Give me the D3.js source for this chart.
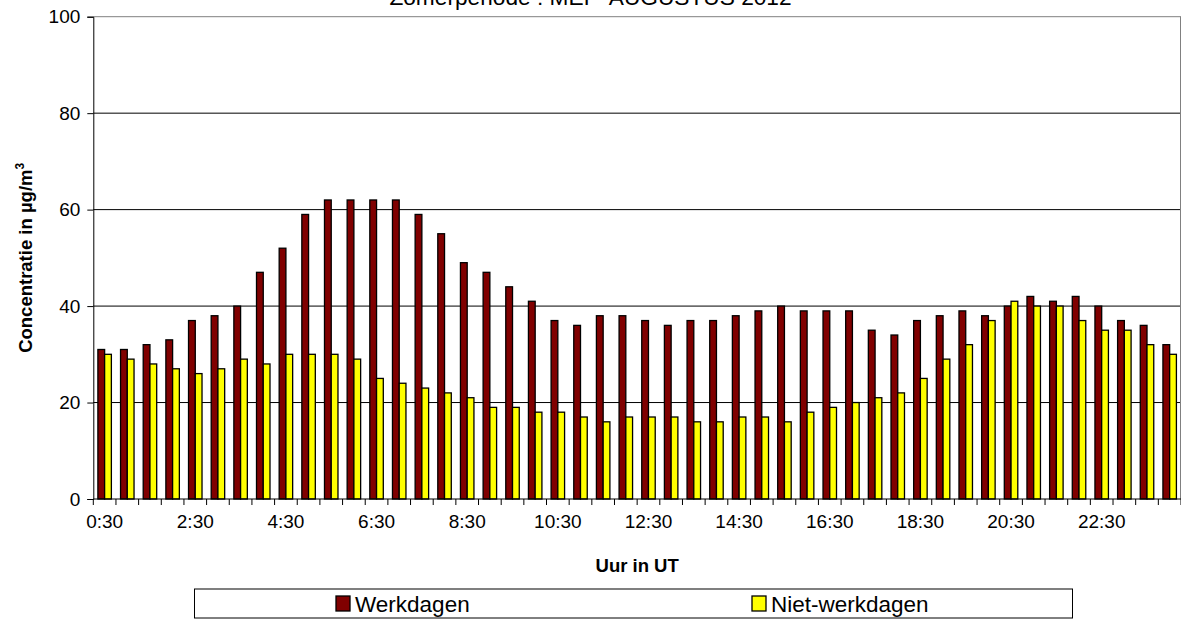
<!DOCTYPE html>
<html>
<head>
<meta charset="utf-8">
<script src="https://cdn.jsdelivr.net/npm/d3@7"></script>
<style>
  html, body { margin: 0; padding: 0; background: #fff; }
  svg { display: block; font-family: "Liberation Sans", Arial, sans-serif; }
</style>
</head>
<body>
<svg id="chart" width="1181" height="619"></svg>
<script>
// Half-hourly categories (UT)
const categories = [
  "0:30","1:00","1:30","2:00","2:30","3:00","3:30","4:00","4:30","5:00","5:30","6:00",
  "6:30","7:00","7:30","8:00","8:30","9:00","9:30","10:00","10:30","11:00","11:30","12:00",
  "12:30","13:00","13:30","14:00","14:30","15:00","15:30","16:00","16:30","17:00","17:30","18:00",
  "18:30","19:00","19:30","20:00","20:30","21:00","21:30","22:00","22:30","23:00","23:30","24:00"
];

// Mean concentration (µg/m³) on working days
const werkdagen = [
  31,31,32,33,37,38,40,47,52,59,62,62,
  62,62,59,55,49,47,44,41,37,36,38,38,
  37,36,37,37,38,39,40,39,39,39,35,34,
  37,38,39,38,40,42,41,42,40,37,36,32
];

// Mean concentration (µg/m³) on non-working days
const nietWerkdagen = [
  30,29,28,27,26,27,29,28,30,30,30,29,
  25,24,23,22,21,19,19,18,18,17,16,17,
  17,17,16,16,17,17,16,18,19,20,21,22,
  25,29,32,37,41,40,40,37,35,35,32,30
];

const seriesNames = ["Werkdagen", "Niet-werkdagen"];
const seriesColors = ["#800000", "#FFFF00"];
const yTicks = [0, 20, 40, 60, 80, 100];
const xTickLabels = ["0:30","2:30","4:30","6:30","8:30","10:30","12:30","14:30","16:30","18:30","20:30","22:30"];

const titleText = "Zomerperiode : MEI - AUGUSTUS 2012";
const xTitle = "Uur in UT";

// Plot area geometry
const plot = { left: 93.3, right: 1181, top: 16.7, bottom: 499 };

const svg = d3.select("#chart");

const x = d3.scaleBand().domain(categories).range([plot.left, plot.right]).padding(0);
const xSub = d3.scaleBand().domain(seriesNames).range([0, x.bandwidth()])
  .paddingInner(0).paddingOuter(0.68);
const y = d3.scaleLinear().domain([0, 100]).range([plot.bottom, plot.top]);

// Horizontal gridlines
svg.append("g").selectAll("line")
  .data(yTicks.filter(d => d > 0))
  .join("line")
  .attr("x1", plot.left).attr("x2", plot.right)
  .attr("y1", d => y(d)).attr("y2", d => y(d))
  .attr("stroke", d => d === 100 ? "#808080" : "#000").attr("stroke-width", 1);

// Right border of the plot area
svg.append("line")
  .attr("x1", plot.right - 0.5).attr("x2", plot.right - 0.5)
  .attr("y1", plot.top).attr("y2", plot.bottom)
  .attr("stroke", "#808080").attr("stroke-width", 1);

// Bars
const rows = categories.map((c, i) => ({ cat: c, values: [werkdagen[i], nietWerkdagen[i]] }));
const groups = svg.append("g").selectAll("g")
  .data(rows)
  .join("g")
  .attr("transform", d => `translate(${x(d.cat)},0)`);

groups.selectAll("rect")
  .data(d => d.values.map((v, k) => ({ key: seriesNames[k], value: v, k })))
  .join("rect")
  .attr("x", d => xSub(d.key))
  .attr("width", xSub.bandwidth())
  .attr("y", d => y(d.value))
  .attr("height", d => y(0) - y(d.value))
  .attr("fill", d => seriesColors[d.k])
  .attr("stroke", "#000")
  .attr("stroke-width", 1.3);

// Y axis
const yAxis = svg.append("g")
  .attr("transform", `translate(${plot.left},0)`)
  .call(d3.axisLeft(y).tickValues(yTicks).tickSize(6).tickPadding(7));
yAxis.select(".domain").attr("stroke", "#000");
yAxis.selectAll(".tick line").attr("stroke", "#000");
yAxis.selectAll(".tick text")
  .attr("font-size", 19).attr("fill", "#000")
  .attr("font-family", "Liberation Sans, Arial, sans-serif");

// X axis line with tick marks at category boundaries
const xAxisG = svg.append("g");
xAxisG.append("line")
  .attr("x1", plot.left).attr("x2", plot.right)
  .attr("y1", plot.bottom).attr("y2", plot.bottom)
  .attr("stroke", "#000");
const boundaries = categories.map(c => x(c)).concat([x(categories[categories.length - 1]) + x.bandwidth()]);
xAxisG.selectAll("line.tk")
  .data(boundaries)
  .join("line")
  .attr("class", "tk")
  .attr("x1", d => d).attr("x2", d => d)
  .attr("y1", plot.bottom).attr("y2", plot.bottom + 6)
  .attr("stroke", "#000");

// X tick labels (every two hours)
const xAxis = svg.append("g")
  .attr("transform", `translate(0,${plot.bottom})`)
  .call(d3.axisBottom(x).tickValues(xTickLabels).tickSize(0).tickPadding(16));
xAxis.select(".domain").remove();
xAxis.selectAll(".tick text")
  .attr("font-size", 19).attr("fill", "#000")
  .attr("font-family", "Liberation Sans, Arial, sans-serif");

// Chart title (its upper part runs off the top of the canvas)
svg.append("text")
  .attr("x", 590.5).attr("y", 4.5)
  .attr("text-anchor", "middle")
  .attr("font-size", 22.7)
  .text(titleText);

// Axis titles
svg.append("text")
  .attr("x", (plot.left + plot.right) / 2).attr("y", 572)
  .attr("text-anchor", "middle")
  .attr("font-size", 18.5).attr("font-weight", "bold")
  .text(xTitle);

const yTitle = svg.append("text")
  .attr("transform", `translate(32,${(plot.top + plot.bottom) / 2}) rotate(-90)`)
  .attr("text-anchor", "middle")
  .attr("font-size", 18.5).attr("font-weight", "bold");
yTitle.append("tspan").text("Concentratie in µg/m");
yTitle.append("tspan").attr("font-size", 12).attr("dy", -8).text("3");

// Legend
const legend = { left: 194.5, top: 589, width: 878, height: 29 };
svg.append("rect")
  .attr("x", legend.left).attr("y", legend.top)
  .attr("width", legend.width).attr("height", legend.height)
  .attr("fill", "#fff").attr("stroke", "#000").attr("stroke-width", 1);

const legendItemX = [336, 752];
const legendItems = svg.append("g").selectAll("g")
  .data(seriesNames)
  .join("g")
  .attr("transform", (d, i) => `translate(${legendItemX[i]},${legend.top + legend.height / 2})`);
legendItems.append("rect")
  .attr("x", 0).attr("y", -7.5).attr("width", 14).attr("height", 15)
  .attr("fill", (d, i) => seriesColors[i])
  .attr("stroke", "#000").attr("stroke-width", 1.3);
legendItems.append("text")
  .attr("x", 19).attr("y", 0).attr("dy", "0.36em")
  .attr("font-size", 22.5)
  .text(d => d);
</script>
</body>
</html>
